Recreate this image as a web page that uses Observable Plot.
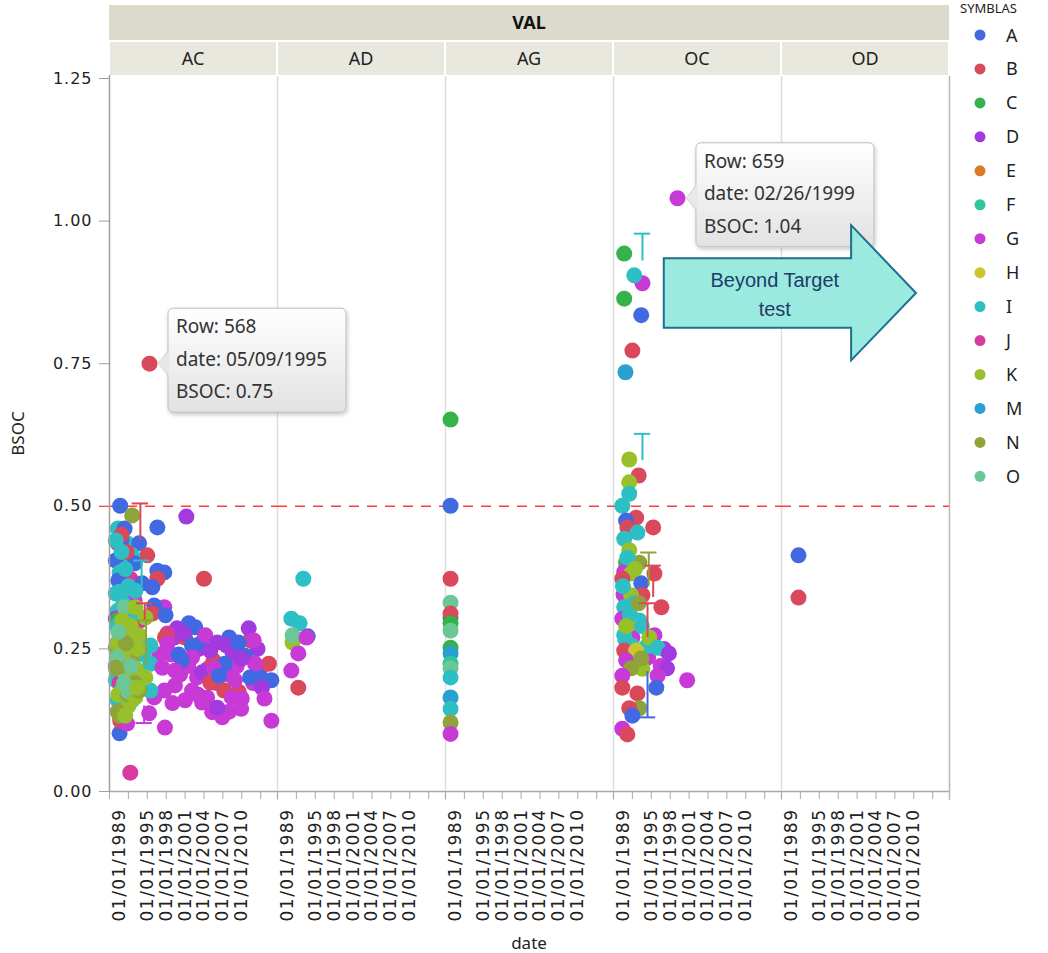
<!DOCTYPE html>
<html><head><meta charset="utf-8">
<script src="https://cdn.jsdelivr.net/npm/d3@7"></script>
<script src="https://cdn.jsdelivr.net/npm/@observablehq/plot@0.6"></script>
<style>
body{margin:0;background:#fff;}
#wrap{position:relative;width:1048px;height:953px;overflow:hidden;background:#fff;}
#wrap svg{position:absolute;left:0;top:0;}
</style></head><body><div id="wrap"></div>
<script>
// ---------- data ----------
const facets = ["AC","AD","AG","OC","OD"];
const facetGroupTitle = "VAL";
const symbols = ["A","B","C","D","E","F","G","H","I","J","K","M","N","O"];
const symbolColors = ["#4169e1","#d9485b","#36b24a","#a23ae0","#d97a2a","#2ec79c","#c83ad6","#cbc52f","#2ebfc4","#d83a9f","#98c02b","#28a0d0","#8ea43a","#6cc797"];
const legendTitle = "SYMBLAS";
const yTicks = [0, 0.25, 0.5, 0.75, 1.0, 1.25];
const xTickYears = [1989, 1992, 1995, 1998, 2001, 2004, 2007, 2010, 2013];
const xTickLabels = ["", "", "01/01/1995", "01/01/1998", "01/01/2001", "01/01/2004", "01/01/2007", "01/01/2010", ""];
const firstTickLabel = "01/01/1989";
const xDomainYears = [1989, 2015.67];
const yLabel = "BSOC", xLabel = "date";
const refLine = 0.5;

// [decimal year, BSOC, symbol]
const acPoints = [
[1998.8,0.24,"G"],[2000.2,0.205,"G"],[2001.5,0.22,"G"],[2002.9,0.20,"G"],[2004.6,0.215,"G"],[2006.0,0.19,"G"],[2007.8,0.205,"G"],
[2009.2,0.22,"G"],[2011.8,0.19,"G"],[2012.8,0.21,"G"],[1996.9,0.24,"G"],[1999.0,0.155,"G"],[2001.0,0.16,"G"],[2003.0,0.17,"G"],
[2008.0,0.14,"G"],[2004.5,0.165,"G"],[2009.9,0.145,"G"],[2003.2,0.25,"D"],[2008.5,0.245,"D"],[2012.5,0.25,"D"],[1999.3,0.27,"D"],
[2003.5,0.26,"A"],[2008.0,0.27,"A"],[2012.9,0.20,"A"],[2000.0,0.24,"A"],[2001.0,0.27,"B"],[2011.3,0.265,"B"],[2005.5,0.23,"B"],[2009.5,0.175,"B"],
[1990.7,0.501,"A"],[2001.2,0.482,"D"],[1990.3,0.461,"I"],[1991.4,0.461,"A"],[1996.6,0.463,"A"],
[1990.3,0.435,"B"],[1991.8,0.435,"I"],[1993.7,0.435,"A"],[1995.0,0.414,"B"],[1991.1,0.408,"I"],[1992.6,0.414,"I"],[1990.0,0.405,"A"],
[1990.6,0.384,"I"],[1996.6,0.387,"A"],[1997.7,0.384,"A"],[1996.6,0.373,"B"],[2004.0,0.373,"B"],[1992.3,0.373,"J"],
[1994.2,0.365,"A"],[1995.8,0.358,"A"],[1990.0,0.347,"I"],[1991.8,0.344,"I"],[1993.0,0.335,"G"],
[1997.7,0.323,"G"],[1996.1,0.326,"A"],[1995.8,0.312,"B"],[1997.9,0.309,"A"],[1990.3,0.317,"I"],[1990.0,0.303,"D"],
[1991.1,0.295,"I"],[2001.6,0.295,"A"],[2002.6,0.288,"A"],[1999.7,0.286,"D"],[2011.1,0.286,"D"],[2004.2,0.274,"G"],[1998.2,0.277,"J"],
[2000.8,0.277,"D"],[2006.1,0.261,"D"],[2007.6,0.256,"D"],[2011.9,0.265,"G"],[2009.5,0.261,"A"],
[1995.5,0.256,"I"],[1997.8,0.270,"B"],[1998.2,0.259,"G"],[2002.1,0.256,"A"],[2005.0,0.247,"D"],
[2014.3,0.224,"B"],[2010.5,0.238,"A"],[2012.1,0.224,"G"],[2010.0,0.233,"D"],[2002.1,0.235,"G"],[2000.5,0.230,"A"],[2007.3,0.224,"A"],
[1995.5,0.224,"I"],[1997.4,0.217,"G"],[1999.4,0.212,"G"],[2003.7,0.209,"D"],[2005.6,0.216,"G"],
[2014.7,0.195,"A"],[2013.2,0.182,"D"],[2005.0,0.191,"B"],[2006.4,0.203,"A"],[2008.9,0.195,"G"],[2011.3,0.200,"A"],
[1990.0,0.195,"I"],[2007.2,0.177,"B"],[2008.4,0.165,"G"],[2010.0,0.163,"G"],
[2013.6,0.163,"G"],[2002.1,0.177,"G"],[1999.4,0.186,"G"],[1997.7,0.177,"G"],[1996.1,0.165,"G"],[2003.7,0.156,"G"],[2005.3,0.139,"G"],
[2006.9,0.130,"G"],[2006.1,0.147,"D"],[1995.3,0.137,"G"],[1997.8,0.112,"G"],[2014.7,0.124,"G"],
[1990.6,0.102,"A"],[1992.3,0.033,"J"],[1990.3,0.160,"I"],[1990.7,0.124,"B"],[1991.8,0.119,"G"],
[1995.5,0.177,"I"],[1990.6,0.305,"G"],[1993.1,0.352,"I"],
[1990.9,0.44,"A"],[1993.0,0.40,"A"],[1990.4,0.37,"A"],[1990.9,0.45,"B"],[1991.7,0.42,"B"],
[1990.0,0.22,"G"],[1990.6,0.19,"J"],[1992.9,0.30,"G"],[1993.9,0.30,"J"],[1990.2,0.30,"C"],[1991.1,0.27,"C"],
[1990.0,0.44,"I"],[1990.9,0.42,"I"],[1991.5,0.39,"I"],[1992.0,0.36,"I"],[1990.5,0.35,"I"],[1991.2,0.33,"I"],[1992.5,0.31,"I"],
[1990.2,0.29,"I"],[1991.7,0.28,"I"],[1993.4,0.26,"I"],[1994.4,0.24,"I"],[1994.0,0.21,"I"],[1991.0,0.18,"I"],[1992.6,0.16,"I"],
[1991.4,0.323,"O"],[1993.1,0.323,"K"],[1994.7,0.305,"K"],[1990.6,0.274,"K"],[1992.9,0.270,"K"],
[1990.0,0.252,"N"],[1992.2,0.252,"K"],[1990.7,0.233,"O"],[1992.6,0.235,"N"],[1991.8,0.200,"O"],[1991.1,0.212,"O"],[1994.7,0.200,"K"],
[1991.0,0.30,"K"],[1992.4,0.29,"K"],[1990.2,0.26,"K"],[1993.5,0.25,"K"],[1991.2,0.24,"K"],[1992.8,0.20,"K"],[1990.4,0.17,"K"],[1992.0,0.15,"K"],[1993.2,0.215,"K"],
[1991.6,0.26,"N"],[1990.8,0.22,"N"],[1993.0,0.19,"N"],[1991.9,0.17,"N"],[1990.3,0.14,"N"],
[1990.4,0.28,"O"],[1992.4,0.22,"O"],[1991.3,0.19,"O"],[1990.2,0.235,"O"],[1992.0,0.175,"O"],
[1993.1,0.165,"K"],[1993.7,0.177,"N"],[1992.2,0.182,"O"],[1993.4,0.182,"K"],[1990.0,0.217,"N"],[1993.7,0.274,"K"],
[1990.6,0.133,"N"],[1991.5,0.133,"K"],[1992.6,0.484,"N"],
[1995.35,0.75,"B"]
];
const adPoints = [
[1993.1,0.373,"I"],[1991.2,0.303,"I"],[1992.5,0.295,"I"],[1993.8,0.272,"A"],[1991.4,0.261,"K"],[1991.4,0.274,"O"],
[1993.6,0.270,"G"],[1992.3,0.242,"G"],[1991.2,0.212,"G"],[1992.3,0.182,"B"]
];
const agPoints = [
[1989.8,0.652,"C"],[1989.8,0.501,"A"],[1989.8,0.373,"B"],[1989.8,0.331,"O"],[1989.8,0.305,"A"],[1989.8,0.312,"B"],
[1989.8,0.295,"C"],[1989.8,0.282,"O"],[1989.8,0.252,"C"],[1989.8,0.242,"M"],[1989.8,0.224,"F"],[1989.8,0.216,"O"],
[1989.8,0.200,"I"],[1989.8,0.165,"M"],[1989.8,0.145,"I"],[1989.8,0.121,"N"],[1989.8,0.101,"G"]
];
const ocPoints = [
[1999.16,1.04,"G"],[1990.7,0.943,"C"],[1993.6,0.891,"G"],[1992.3,0.905,"I"],[1990.7,0.864,"C"],[1993.4,0.835,"A"],[1992.0,0.773,"B"],[1990.9,0.735,"M"],
[1990.6,0.345,"G"],[1992.0,0.27,"G"],[1994.5,0.235,"G"],[1996.5,0.22,"G"],[1997.0,0.25,"D"],
[1993.0,0.554,"B"],[1991.5,0.582,"K"],[1991.5,0.542,"K"],[1991.5,0.522,"I"],[1990.4,0.501,"I"],[1992.6,0.480,"B"],[1991.0,0.475,"A"],
[1991.2,0.463,"B"],[1995.3,0.463,"B"],[1992.8,0.454,"I"],[1990.7,0.443,"I"],[1991.5,0.423,"K"],[1991.0,0.401,"C"],[1993.1,0.401,"N"],
[1995.5,0.382,"B"],[1990.7,0.385,"G"],[1991.8,0.382,"K"],[1990.4,0.373,"B"],[1993.4,0.365,"A"],[1993.6,0.344,"B"],[1991.8,0.344,"K"],
[1990.7,0.323,"I"],[1996.6,0.323,"B"],[1990.4,0.303,"G"],[1993.1,0.300,"I"],[1991.5,0.293,"K"],[1990.7,0.274,"I"],[1995.5,0.274,"G"],
[1991.2,0.41,"I"],[1990.5,0.36,"I"],[1992.2,0.33,"I"],[1991.6,0.31,"I"],[1990.9,0.265,"I"],[1993.5,0.29,"I"],[1992.0,0.255,"I"],[1994.3,0.255,"I"],
[1992.4,0.39,"K"],[1993.0,0.33,"N"],[1991.0,0.29,"K"],[1992.2,0.225,"N"],[1993.6,0.215,"K"],
[1994.7,0.270,"K"],[1996.0,0.252,"I"],[1997.8,0.242,"D"],[1990.7,0.247,"B"],[1992.6,0.247,"H"],[1991.0,0.230,"G"],[1993.4,0.233,"N"],
[1991.8,0.216,"N"],[1997.5,0.216,"D"],[1990.4,0.203,"G"],[1996.0,0.203,"G"],[2000.7,0.195,"G"],[1995.8,0.182,"A"],[1990.4,0.182,"B"],
[1992.8,0.172,"B"],[1993.1,0.146,"N"],[1991.5,0.146,"B"],[1992.0,0.133,"A"],[1990.4,0.110,"G"],[1991.2,0.100,"B"]
];
const odPoints = [[1991.7,0.414,"A"],[1991.7,0.340,"B"]];

// error bars: [facet, decimal year, low, high, symbol, cap end]
const errorBars = [
["AC",1993.9,0.44,0.505,"B","hi"],["AC",1994.1,0.36,0.405,"I","hi"],["AC",1994.6,0.30,0.33,"B","hi"],
["AC",1994.8,0.22,0.30,"N","hi"],["AC",1994.5,0.12,0.15,"G","lo"],
["OC",1993.6,0.93,0.978,"I","hi"],["OC",1993.6,0.58,0.627,"I","hi"],["OC",1994.6,0.36,0.419,"N","hi"],
["OC",1995.3,0.34,0.396,"B","hi"],["OC",1994.4,0.27,0.33,"B","hi"],["OC",1994.4,0.13,0.21,"A","lo"]
];
// hover labels
const tooltips = [
{facet:"AC", row:568, date:"05/09/1995", bsoc:0.75},
{facet:"OC", row:659, date:"02/26/1999", bsoc:1.04}
];
const calloutText = ["Beyond Target", "test"];

// ---------- build ----------
function yd(y){const yr=Math.floor(y);const f=y-yr;return new Date(Date.UTC(yr,0,1)+f*365.25*864e5);}
function parseMDY(s){const [m,d,y]=s.split("/").map(Number);return new Date(Date.UTC(y,m-1,d));}
const pts = [];
[["AC",acPoints],["AD",adPoints],["AG",agPoints],["OC",ocPoints],["OD",odPoints]].forEach(([f,arr])=>
  arr.forEach(([yr,v,s])=>pts.push({facet:f,date:yd(yr),value:v,sym:s})));
const bars = errorBars.map(([f,yr,lo,hi,s,cap])=>({facet:f,date:yd(yr),lo,hi,sym:s,cap:cap==="hi"?hi:lo,c1:yd(yr-1.3),c2:yd(yr+1.3)}));
const tickDates = xTickYears.map(y=>yd(y));
const labelOf = new Map(tickDates.map((d,i)=>[+d,xTickLabels[i]]));
const xStart = yd(xDomainYears[0]), xEnd = yd(xDomainYears[1]);

const W = 955, H = 953, mL = 107, mR = 4, mT = 76, mB = 162;
const plot = Plot.plot({
  width: W, height: H, marginLeft: mL, marginRight: mR, marginTop: mT, marginBottom: mB,
  style: {fontFamily: "DejaVu Sans", fontSize: "16px", color: "#222", background: "transparent", overflow: "visible"},
  fx: {domain: facets, padding: 0, axis: null, label: null},
  x: {type: "utc", domain: [xStart, xEnd], axis: null},
  y: {domain: [0, 1.2535], axis: null},
  color: {domain: symbols, range: symbolColors},
  marks: [
    Plot.ruleX(facets.filter(f=>f!=="AC"), {fx: d=>d, x: ()=>xStart, stroke: "#dedede", strokeWidth: 1.5, insetBottom: -9}),
    Plot.ruleX(["OD"], {fx: d=>d, x: ()=>xEnd, stroke: "#b8b8b8", strokeWidth: 1.5, insetBottom: -9}),
    Plot.ruleY([0], {stroke: "#a8a8a8", strokeWidth: 1.5}),
    Plot.axisX({ticks: tickDates, tickSize: 8, tickFormat: () => "", stroke: "#a8a8a8", label: null}),
    Plot.axisX({ticks: tickDates, tickSize: 0, tickPadding: 17, tickRotate: -90, fontSize: 17, fill: "#222", tickFormat: d => labelOf.get(+d) ?? "", label: null}),
    Plot.axisX({ticks: [tickDates[0]], tickSize: 0, tickPadding: 17, tickRotate: -90, fontSize: 17, fill: "#222", tickFormat: () => firstTickLabel, dx: 10, label: null}),
    Plot.axisY({ticks: yTicks, tickSize: 10, tickPadding: 7, tickFormat: d3.format(".2f"), stroke: "#a0a0a0", fill: "#222", fontSize: 16, label: null}),
    Plot.axisY({ticks: [refLine], tickSize: 10, tickFormat: () => "", stroke: "#ff3b3b", label: null}),
    Plot.ruleY([refLine], {stroke: "#ff3b3b", strokeWidth: 1.6, strokeDasharray: "10,8"}),
    Plot.dot(pts, {fx: "facet", x: "date", y: "value", fill: "sym", r: 8}),
    Plot.ruleX(bars, {fx: "facet", x: "date", y1: "lo", y2: "hi", stroke: "sym", strokeWidth: 2}),
    Plot.ruleY(bars, {fx: "facet", y: "cap", x1: "c1", x2: "c2", stroke: "sym", strokeWidth: 2}),
    Plot.ruleX(["AC"], {fx: d=>d, x: ()=>xStart, stroke: "#a0a0a0", strokeWidth: 1.5, insetTop: -1})
  ]
});
const wrap = document.getElementById("wrap");
wrap.appendChild(plot);
plot.querySelectorAll('g[aria-label="x-axis tick label"] text').forEach(t=>t.style.letterSpacing="1.5px");
plot.querySelectorAll('g[aria-label="y-axis tick label"] text').forEach(t=>t.style.letterSpacing="1px");

// ---------- overlay (header, labels, legend, annotations) ----------
const xs = plot.scale("x"), ys = plot.scale("y"), fxs = plot.scale("fx");
const x0 = xs.range[0];
const bw = fxs.bandwidth;
const X = (f, d) => fxs.apply(f) + xs.apply(d) - x0;
const Y = v => ys.apply(v);
const ov = d3.select(wrap).append("svg").attr("width", 1048).attr("height", 953).style("pointer-events","none")
  .style("font-family", "'Noto Sans', 'DejaVu Sans', sans-serif");
const defs = ov.append("defs");
const g1 = defs.append("linearGradient").attr("id","tipg").attr("x1",0).attr("y1",0).attr("x2",0).attr("y2",1);
g1.append("stop").attr("offset","0%").attr("stop-color","#ffffff");
g1.append("stop").attr("offset","100%").attr("stop-color","#e2e2e2");
const flt = defs.append("filter").attr("id","sh").attr("x","-10%").attr("y","-10%").attr("width","130%").attr("height","140%");
flt.append("feDropShadow").attr("dx",1).attr("dy",2).attr("stdDeviation",2).attr("flood-color","#000").attr("flood-opacity",0.22);

// header
const hx0 = fxs.apply(facets[0]), hx1 = fxs.apply(facets[facets.length-1]) + bw;
ov.append("rect").attr("x", hx0).attr("y", 5).attr("width", hx1-hx0).attr("height", 35).attr("fill", "#dcdacd");
ov.append("text").attr("x", (hx0+hx1)/2).attr("y", 29).attr("text-anchor","middle").attr("font-weight","bold")
  .attr("font-size", 18).attr("fill","#111").text(facetGroupTitle);
facets.forEach(f=>{
  const fx0 = fxs.apply(f);
  ov.append("rect").attr("x", fx0+1).attr("y", 42).attr("width", bw-2).attr("height", 33).attr("fill", "#e9e8df");
  ov.append("text").attr("x", fx0+bw/2).attr("y", 65).attr("text-anchor","middle").attr("font-size",18).attr("fill","#222").text(f);
});

// axis titles
ov.append("text").attr("transform", `translate(24,${(mT+H-mB)/2}) rotate(-90)`).attr("text-anchor","middle")
  .attr("font-size",17).attr("fill","#222").text(yLabel);
ov.append("text").attr("x", (hx0+hx1)/2).attr("y", 949).attr("text-anchor","middle").attr("font-size",17).attr("fill","#222").text(xLabel);

// legend
ov.append("text").attr("x", 960).attr("y", 13).attr("font-size",13).attr("fill","#222").text(legendTitle);
symbols.forEach((s,i)=>{
  const cy = 35 + i*33.95;
  ov.append("circle").attr("cx", 980).attr("cy", cy).attr("r", 5.5).attr("fill", symbolColors[i]);
  ov.append("text").attr("x", 1006).attr("y", cy+6.5).attr("font-size",18).attr("fill","#222").text(s);
});

// tooltips
tooltips.forEach(t=>{
  const px = X(t.facet, parseMDY(t.date)), py = Y(t.bsoc);
  const bx = px + 19, by = py - 55, w = 178, h = 104;
  const g = ov.append("g");
  g.append("path").attr("d", `M${px+9},${py} L${bx+2},${py-14} L${bx+2},${py+14} Z`).attr("fill","#e3e3e3").attr("stroke","#c8c8c8");
  g.append("rect").attr("x",bx).attr("y",by).attr("width",w).attr("height",h).attr("rx",5)
    .attr("fill","url(#tipg)").attr("stroke","#bdbdbd").attr("filter","url(#sh)");
  g.append("path").attr("d", `M${bx+1.5},${py-13} L${px+9},${py} L${bx+1.5},${py+13}`).attr("fill","#e8e8e8").attr("stroke","none");
  const lines = [`Row: ${t.row}`, `date: ${t.date}`, `BSOC: ${t.bsoc.toFixed(2)}`];
  lines.forEach((l,i)=> g.append("text").attr("x", bx+8).attr("y", py - 30 + i*32.5).attr("font-size",19).attr("fill","#333").text(l));
});

// callout arrow (positioned in OC panel data units)
const ax0 = X("OC", yd(1997.06)), ax1 = X("OC", yd(2026.8)), axT = X("OC", yd(2037.1));
const ayB1 = Y(0.934), ayB2 = Y(0.812), ayH1 = Y(0.992), ayH2 = Y(0.755), ayT = Y(0.873);
ov.append("path").attr("d", `M${ax0},${ayB1} L${ax1},${ayB1} L${ax1},${ayH1} L${axT},${ayT} L${ax1},${ayH2} L${ax1},${ayB2} L${ax0},${ayB2} Z`)
  .attr("fill","#9beadf").attr("stroke","#1d6f8d").attr("stroke-width",2).attr("stroke-linejoin","miter");
calloutText.forEach((l,i)=> ov.append("text").attr("x", ax0+111).attr("y", ayB1 + 29 + i*29).attr("text-anchor","middle")
  .attr("font-family","'Liberation Sans', Arial, sans-serif").attr("font-size",20).attr("fill","#1f3a6a").text(l));
</script></body></html>
